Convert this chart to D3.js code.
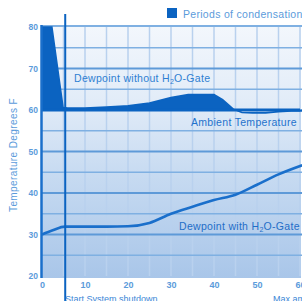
<!DOCTYPE html>
<html>
<head>
<meta charset="utf-8">
<script src="https://cdn.jsdelivr.net/npm/d3@7"></script>
<style>
  body { margin: 0; background: #fff; }
  text { font-family: "Liberation Sans", Arial, sans-serif; }
</style>
</head>
<body>
<div id="chart"></div>
<script>
var totWidth = 302;
var totHeight = 301;

//-- Data
var timeTicks = [0, 10, 20, 30, 40, 50, 60];
var tempTicks = [20, 30, 40, 50, 60, 70, 80];
var shutdownTime = 5.4;

var ambientTime = [0, 10, 20, 30, 40, 50, 60];
var ambientTemp = [60, 60, 60, 60, 60, 60, 60];

var dewNoGateTime = [0, 2.3, 4.9, 6, 10, 15, 20, 25, 30, 34, 40, 42, 44.5, 46.5, 49, 52, 55, 58, 62];
var dewNoGateTemp = [80, 80, 60.6, 60.5, 60.5, 60.7, 61.0, 61.7, 63.0, 63.7, 63.7, 62.5, 60.2, 59.4, 59.3, 59.3, 59.6, 59.8, 59.8];

var dewGateTime = [0, 2.5, 5.3, 10, 15, 20, 25, 30, 35, 40, 45, 50, 55, 60.5];
var dewGateTemp = [30, 31.0, 31.9, 31.9, 31.9, 32.0, 32.8, 35.0, 36.7, 38.3, 39.6, 42.0, 44.5, 46.7];

//-- Dimension & margin
var margin = {top: 27, right: 2, bottom: 25, left: 42},
    width = totWidth - margin.left - margin.right,
    height = totHeight - margin.top - margin.bottom;

var svg = d3.select("#chart")
  .append("svg")
    .attr("width", totWidth)
    .attr("height", totHeight)
    .style("display", "block");

var defs = svg.append("defs");
var grad = defs.append("linearGradient")
    .attr("id", "bg")
    .attr("x1", 0).attr("y1", 0).attr("x2", 0).attr("y2", 1);
grad.append("stop").attr("offset", "0%").attr("stop-color", "#f3f7fc");
grad.append("stop").attr("offset", "30%").attr("stop-color", "#e2ecf8");
grad.append("stop").attr("offset", "60%").attr("stop-color", "#c6daf1");
grad.append("stop").attr("offset", "100%").attr("stop-color", "#a9c6e9");

var g = svg.append("g")
    .attr("transform", "translate(" + margin.left + "," + margin.top + ")");

//-- Scales
var x = d3.scaleLinear().domain([0, 60]).range([0, 258]);
var y = d3.scaleLinear().domain([20, 80]).range([249, 0]);

//-- Plot background
g.append("rect")
    .attr("x", -1)
    .attr("y", y(80) - 2)
    .attr("width", width + 2)
    .attr("height", y(20) - y(80) + 4)
    .attr("fill", "url(#bg)");

//-- Grid: vertical minor lines
g.append("g")
  .selectAll("line")
  .data(d3.range(5, 65, 5))
  .enter().append("line")
    .attr("x1", function(d){ return x(d); })
    .attr("x2", function(d){ return x(d); })
    .attr("y1", y(80))
    .attr("y2", y(20))
    .attr("stroke", "#b9d1ee")
    .attr("stroke-width", 1.5);

//-- Grid: horizontal lines (every 5, thicker every 10)
g.append("g")
  .selectAll("line")
  .data(d3.range(25, 80, 5))
  .enter().append("line")
    .attr("x1", 0)
    .attr("x2", width + 2)
    .attr("y1", function(d){ return y(d); })
    .attr("y2", function(d){ return y(d); })
    .attr("stroke", function(d){ return d % 10 == 0 ? "#5e9ad8" : "#7fb0e2"; })
    .attr("stroke-width", function(d){ return d % 10 == 0 ? 2.2 : 1.6; });

//-- Top frame line
g.append("line")
    .attr("x1", 0).attr("x2", width + 2)
    .attr("y1", y(80) - 1).attr("y2", y(80) - 1)
    .attr("stroke", "#7fb0e2")
    .attr("stroke-width", 2);

//-- Condensation area (dewpoint above ambient)
var noGate = dewNoGateTime.map(function(t, i){ return {t: t, v: dewNoGateTemp[i]}; });
var amb = d3.scaleLinear().domain(ambientTime).range(ambientTemp);

g.append("path")
    .datum(noGate)
    .attr("fill", "#0b63c1")
    .attr("d", d3.area()
      .x(function(d){ return x(d.t); })
      .y0(function(d){ return y(amb(d.t)); })
      .y1(function(d){ return y(Math.max(d.v, amb(d.t))); }));

//-- Dewpoint without gate line
g.append("path")
    .datum(noGate)
    .attr("fill", "none")
    .attr("stroke", "#0b63c1")
    .attr("stroke-width", 1.6)
    .attr("d", d3.line()
      .x(function(d){ return x(d.t); })
      .y(function(d){ return y(d.v); }));

//-- Ambient temperature line
g.append("path")
    .datum(ambientTime.map(function(t, i){ return {t: t, v: ambientTemp[i]}; }))
    .attr("fill", "none")
    .attr("stroke", "#0b63c1")
    .attr("stroke-width", 3)
    .attr("d", d3.line()
      .x(function(d){ return x(d.t); })
      .y(function(d){ return y(d.v); }));

//-- Dewpoint with gate line
g.append("path")
    .datum(dewGateTime.map(function(t, i){ return {t: t, v: dewGateTemp[i]}; }))
    .attr("fill", "none")
    .attr("stroke", "#1a6fcb")
    .attr("stroke-width", 2.6)
    .attr("d", d3.line()
      .curve(d3.curveMonotoneX)
      .x(function(d){ return x(d.t); })
      .y(function(d){ return y(d.v); }));

//-- Y axis line
g.append("line")
    .attr("x1", -0.5).attr("x2", -0.5)
    .attr("y1", y(80) - 2).attr("y2", y(20) + 2)
    .attr("stroke", "#1a6fcb")
    .attr("stroke-width", 2.5);

//-- Shutdown marker
g.append("line")
    .attr("x1", x(shutdownTime)).attr("x2", x(shutdownTime))
    .attr("y1", -13).attr("y2", totHeight - margin.top)
    .attr("stroke", "#0b63c1")
    .attr("stroke-width", 2);

//-- Axes
var yAxis = d3.axisLeft(y).tickValues(tempTicks).tickSize(0).tickPadding(4);
var yg = g.append("g").call(yAxis);
yg.select(".domain").remove();
yg.selectAll("text")
    .attr("fill", "#5b9bdb")
    .attr("font-size", 8.5)
    .attr("font-weight", "bold");

var xAxis = d3.axisBottom(x).tickValues(timeTicks).tickSize(0).tickPadding(6);
var xg = g.append("g")
    .attr("transform", "translate(0," + y(20) + ")")
    .call(xAxis);
xg.select(".domain").remove();
xg.selectAll("text")
    .attr("fill", "#5b9bdb")
    .attr("font-size", 9)
    .attr("font-weight", "bold");

//-- Texts
var textColor = "#2f7fd2";

var t1 = g.append("text")
    .attr("x", 32).attr("y", 55)
    .attr("fill", textColor)
    .attr("font-size", 10.5)
    .attr("letter-spacing", 0.3);
t1.append("tspan").text("Dewpoint without H");
t1.append("tspan").attr("font-size", 7).attr("dy", 2).text("2");
t1.append("tspan").attr("dy", -2).text("O-Gate");

g.append("text")
    .attr("x", 149).attr("y", 99)
    .attr("fill", "#1f72cc")
    .attr("font-size", 10.5)
    .attr("letter-spacing", 0.3)
    .text("Ambient Temperature");

var t2 = g.append("text")
    .attr("x", 137).attr("y", 203)
    .attr("fill", "#1f6ec8")
    .attr("font-size", 10.5)
    .attr("letter-spacing", 0.3);
t2.append("tspan").text("Dewpoint with H");
t2.append("tspan").attr("font-size", 7).attr("dy", 2).text("2");
t2.append("tspan").attr("dy", -2).text("O-Gate");

svg.append("text")
    .attr("text-anchor", "middle")
    .attr("transform", "translate(17," + 155 + ")rotate(-90)")
    .attr("fill", "#5b9bdb")
    .attr("font-size", 10)
    .attr("letter-spacing", 0.4)
    .text("Temperature Degrees F");

svg.append("text")
    .attr("x", 65).attr("y", 302)
    .attr("fill", "#3a86d6")
    .attr("font-size", 9)
    .text("Start System shutdown");

svg.append("text")
    .attr("x", 273).attr("y", 302)
    .attr("fill", "#3a86d6")
    .attr("font-size", 9)
    .text("Max ambient");

//-- Legend
svg.append("rect")
    .attr("x", 167).attr("y", 8)
    .attr("width", 10).attr("height", 10)
    .attr("fill", "#0b63c1");

svg.append("text")
    .attr("x", 183).attr("y", 17.5)
    .attr("fill", "#5b9bdb")
    .attr("font-size", 10.5)
    .attr("letter-spacing", 0.3)
    .text("Periods of condensation");
</script>
</body>
</html>
